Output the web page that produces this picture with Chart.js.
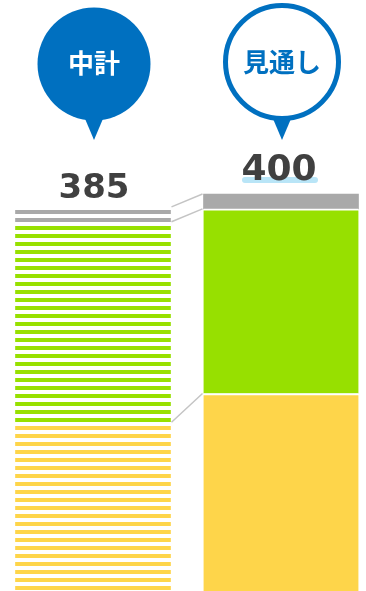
<!DOCTYPE html>
<html>
<head>
<meta charset="utf-8">
<script src="https://cdn.jsdelivr.net/npm/chart.js@4"></script>
<style>
  html, body { margin: 0; padding: 0; background: #fff; }
</style>
</head>
<body>
<canvas id="chart" width="366" height="591"></canvas>
<script>
const categories = ['中計', '見通し'];
const totals = [385, 400];
const yellowValues = [168, 199];
const greenValues = [202, 186];
const grayValues = [15, 15];

const ctx = document.getElementById('chart').getContext('2d');

function stripes(color) {
  const c = document.createElement('canvas');
  c.width = 8;
  c.height = 8;
  const g = c.getContext('2d');
  g.fillStyle = color;
  g.fillRect(0, 2, 8, 4);
  return ctx.createPattern(c, 'repeat');
}

const YELLOW = '#fed54a';
const GREEN = '#97e000';
const GRAY = '#a9a9a9';
const BLUE = '#0070c0';

function sepBorder(c) {
  return c.dataIndex === 1 ? { top: 2, left: 0, right: 0, bottom: 0 } : 0;
}

const overlay = {
  id: 'overlay',
  afterDatasetsDraw(chart) {
    const c = chart.ctx;
    const y = chart.scales.y;
    const metaTop = chart.getDatasetMeta(2).data;
    const xL = metaTop[0].x, xR = metaTop[1].x;
    const half = metaTop[0].width / 2;

    // connector lines between the two stacks
    const levels = [
      [totals[0], totals[1]],
      [yellowValues[0] + greenValues[0], yellowValues[1] + greenValues[1]],
      [yellowValues[0], yellowValues[1]]
    ];
    c.save();
    c.strokeStyle = '#c4c4c4';
    c.lineWidth = 1.5;
    levels.forEach(l => {
      c.beginPath();
      c.moveTo(xL + half + 1, y.getPixelForValue(l[0]) - 2);
      c.lineTo(xR - half - 1, y.getPixelForValue(l[1]));
      c.stroke();
    });

    // bubbles
    function pointer(cx) {
      c.fillStyle = BLUE;
      c.beginPath();
      c.moveTo(cx - 11, 114);
      c.lineTo(cx + 11, 114);
      c.lineTo(cx, 140);
      c.closePath();
      c.fill();
    }
    pointer(xL + 1);
    c.beginPath();
    c.arc(xL + 1, 64, 56.5, 0, Math.PI * 2);
    c.fillStyle = BLUE;
    c.fill();

    pointer(xR + 1);
    c.beginPath();
    c.arc(xR + 1, 62, 56.5, 0, Math.PI * 2);
    c.fillStyle = '#fff';
    c.fill();
    c.lineWidth = 5;
    c.strokeStyle = BLUE;
    c.stroke();

    c.textAlign = 'center';
    c.textBaseline = 'middle';
    c.font = 'bold 26px "Noto Sans CJK JP"';
    c.fillStyle = '#fff';
    c.fillText(categories[0], xL + 1, 63);
    c.fillStyle = BLUE;
    c.fillText(categories[1], xR + 1, 62);

    // totals
    c.textBaseline = 'alphabetic';
    const yL = y.getPixelForValue(totals[0]);
    const yR = y.getPixelForValue(totals[1]);
    c.fillStyle = '#b9e5f7';
    c.beginPath();
    c.roundRect(xR - 39, yR - 17, 76, 6, 3);
    c.fill();
    c.fillStyle = '#404040';
    c.font = 'bold 34px "DejaVu Sans"';
    c.fillText(String(totals[0]), xL + 1, yL - 11);
    c.font = 'bold 36px "DejaVu Sans"';
    c.fillText(String(totals[1]), xR - 2, yR - 14);
    c.restore();
  }
};

new Chart(ctx, {
  type: 'bar',
  data: {
    labels: categories,
    datasets: [
      {
        label: 'yellow',
        data: yellowValues,
        backgroundColor: [stripes(YELLOW), YELLOW],
        borderColor: '#fff',
        borderWidth: sepBorder,
        borderSkipped: false
      },
      {
        label: 'green',
        data: greenValues,
        backgroundColor: [stripes(GREEN), GREEN],
        borderColor: '#fff',
        borderWidth: sepBorder,
        borderSkipped: false
      },
      {
        label: 'gray',
        data: grayValues,
        backgroundColor: [stripes(GRAY), GRAY],
        borderWidth: 0
      }
    ]
  },
  options: {
    responsive: false,
    animation: false,
    devicePixelRatio: 1,
    layout: { padding: { top: 194, bottom: 0, left: 93, right: 85 } },
    datasets: { bar: { barThickness: 155, clip: false } },
    plugins: { legend: { display: false }, tooltip: { enabled: false } },
    scales: {
      x: { stacked: true, offset: false, display: false },
      y: { stacked: true, min: 0, max: 400, display: false }
    }
  },
  plugins: [overlay]
});
</script>
</body>
</html>
